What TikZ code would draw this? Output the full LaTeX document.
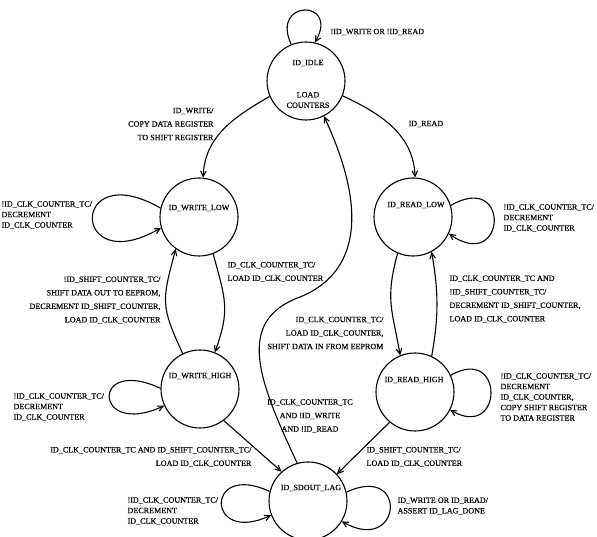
\documentclass[tikz,border=0pt]{standalone}
\usepackage{fontspec}
\setmainfont{Liberation Serif}[FakeBold=0.3]
\usepackage{tikz}
\usetikzlibrary{arrows.meta}
\newcommand\lblfont{\fontsize{8.1}{10.5}\selectfont}
\newcommand\lblwidefont{\fontsize{8.1}{13.5}\selectfont}
\newcommand\linewd{1.1pt}
\tikzset{>={Straight Barb[length=5.5pt,width=5.5pt]}}
\tikzstyle{graph} = [line width=\linewd]
\tikzstyle{state} = [circle, draw, graph, minimum size=78pt, inner sep=0pt]
\tikzstyle{wide}  = [font=\lblwidefont]

\begin{document}
\begin{tikzpicture}[x=1pt, y=1pt, line width=\linewd]
  \useasboundingbox (0, 0) rectangle (597, 537);
  \tikzstyle{every node}=[font=\lblfont, inner sep=0pt]
  \draw (306, 456) node[state] (idle) {};
  \draw (199, 320) node[state] (wlow) {};
  \draw (413, 320) node[state] (rlow) {};
  \draw (200, 148) node[state] (whigh) {};
  \draw (415, 145) node[state] (rhigh) {};
  \draw (308, 36) node[state] (lag) {};
  \draw (308, 474) node (idlet) {ID\_IDLE};
  \draw (308, 437) node[align=center] (idlet2) {LOAD\\COUNTERS};
  \draw (199, 329) node (wlowt) {ID\_WRITE\_LOW};
  \draw (416, 332) node (rlowt) {ID\_READ\_LOW};
  \draw (200, 161) node (whight) {ID\_WRITE\_HIGH};
  \draw (414, 157) node (rhight) {ID\_READ\_HIGH};
  \draw (311, 49) node (lagt) {ID\_SDOUT\_LAG};
  \draw (idle.112) .. controls +(115:50) and +(60:50) .. (idle.77) [->];
  \draw (idle.203) to [out=210, in=88] (wlow.84) [->];
  \draw (idle.-22) to [out=-25, in=92] (rlow.87) [->];
  \draw (wlow.167) .. controls +(150:105) and +(210:105) .. (wlow.196) [->];
  \draw (wlow.-69) to [out=-75, in=70, looseness=1.2] (whigh.68) [->];
  \draw (whigh.116) to [out=115, in=-105, looseness=1.3] (wlow.234) [->];
  \draw (whigh.179) .. controls +(155:78) and +(205:78) .. (whigh.205) [->];
  \draw (whigh.-53) -- (lag.132) [->];
  \draw (rlow.17) .. controls +(30:70) and +(-35:70) .. (rlow.-25) [->];
  \draw (rlow.247) to [out=255, in=100, looseness=1.2] (rhigh.112) [->];
  \draw (rhigh.65) to [out=80, in=-80] (rlow.-62) [->];
  \draw (rhigh.25) .. controls +(30:62) and +(-30:62) .. (rhigh.-27) [->];
  \draw (rhigh.230) -- (lag.43) [->];
  \coordinate (swing) at (300, 240);
  \draw (lag.106) .. controls +(115:90) and +(200:70) .. (swing)
        .. controls +(22:60) and +(-65:110) .. (idle.-63) [->];
  \draw (lag.166) .. controls +(155:72) and +(205:72) .. (lag.201) [->];
  \draw (lag.13) .. controls +(25:69) and +(-30:69) .. (lag.-31) [->];
  \draw (330, 505) node[anchor=west] (lidle) {!ID\_WRITE OR !ID\_READ};
  \draw (214, 413) node[anchor=east, wide, align=right] (lwrite)
    {ID\_WRITE/\\COPY DATA REGISTER\\TO SHIFT REGISTER};
  \draw (408, 413) node[anchor=west] (lread) {ID\_READ};
  \draw (1, 322) node[anchor=west, align=left] (lwlow)
    {!ID\_CLK\_COUNTER\_TC/\\DECREMENT\\ID\_CLK\_COUNTER};
  \draw (227, 265) node[anchor=west, wide, align=left] (lwup)
    {ID\_CLK\_COUNTER\_TC/\\LOAD ID\_CLK\_COUNTER};
  \draw (161, 237) node[anchor=east, wide, align=right] (lwdown)
    {!ID\_SHIFT\_COUNTER\_TC/\\SHIFT DATA OUT TO EEPROM,\\DECREMENT ID\_SHIFT\_COUNTER,\\LOAD ID\_CLK\_COUNTER};
  \draw (13, 130) node[anchor=west, align=left] (lwhigh)
    {!ID\_CLK\_COUNTER\_TC/\\DECREMENT\\ID\_CLK\_COUNTER};
  \draw (252, 80) node[anchor=east, wide, align=right] (lwlag)
    {ID\_CLK\_COUNTER\_TC AND ID\_SHIFT\_COUNTER\_TC/\\LOAD ID\_CLK\_COUNTER};
  \draw (503, 319) node[anchor=west, align=left] (lrlow)
    {!ID\_CLK\_COUNTER\_TC/\\DECREMENT\\ID\_CLK\_COUNTER};
  \draw (384, 204) node[anchor=east, wide, align=right] (lrdown)
    {ID\_CLK\_COUNTER\_TC/\\LOAD ID\_CLK\_COUNTER,\\SHIFT DATA IN FROM EEPROM};
  \draw (449, 238) node[anchor=west, wide, align=left] (lrup)
    {ID\_CLK\_COUNTER\_TC AND\\!ID\_SHIFT\_COUNTER\_TC/\\DECREMENT ID\_SHIFT\_COUNTER,\\LOAD ID\_CLK\_COUNTER};
  \draw (500, 140) node[anchor=west, align=left] (lrhigh)
    {!ID\_CLK\_COUNTER\_TC/\\DECREMENT\\ID\_CLK\_COUNTER,\\COPY SHIFT REGISTER\\TO DATA REGISTER};
  \draw (366, 80) node[anchor=west, wide, align=left] (lrlag)
    {ID\_SHIFT\_COUNTER\_TC/\\LOAD ID\_CLK\_COUNTER};
  \draw (310, 121) node[wide, align=center] (lback)
    {ID\_CLK\_COUNTER\_TC\\AND !ID\_WRITE\\AND !ID\_READ};
  \draw (127, 26) node[anchor=west, align=left] (llagl)
    {!ID\_CLK\_COUNTER\_TC/\\DECREMENT\\ID\_CLK\_COUNTER};
  \draw (397, 31) node[anchor=west, align=left] (llagr)
    {ID\_WRITE OR ID\_READ/\\ASSERT ID\_LAG\_DONE};
\end{tikzpicture}
\end{document}
